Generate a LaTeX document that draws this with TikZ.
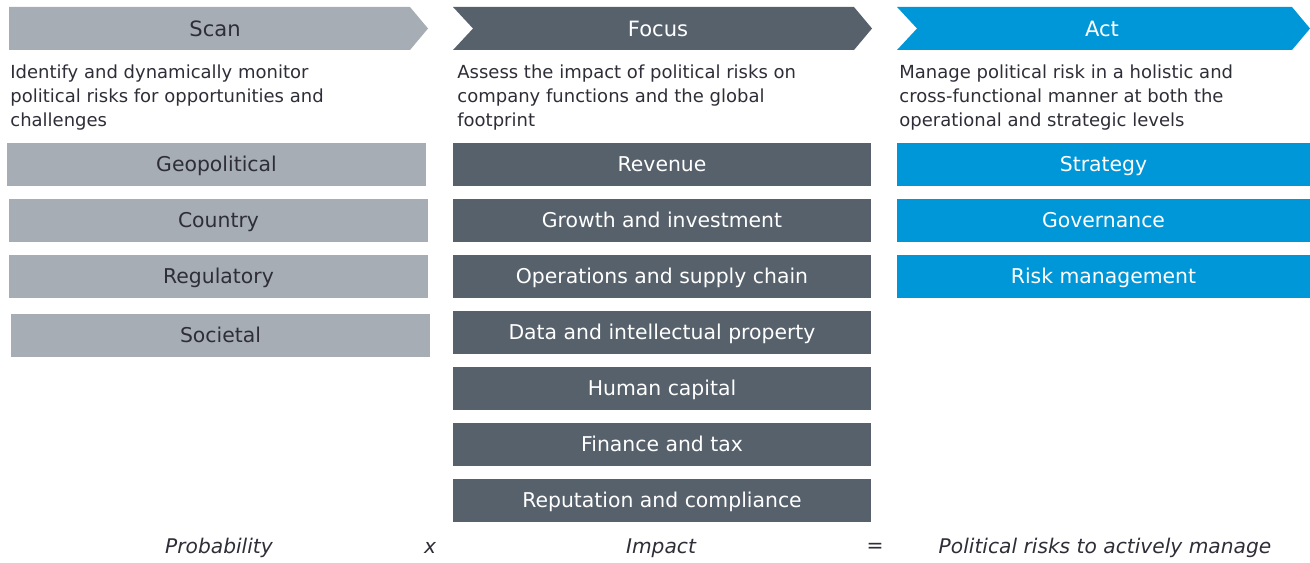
\documentclass[tikz,border=0pt]{standalone}
\usepackage{fontspec}
\setmainfont{DejaVu Sans}
\usepackage{tikz}
\usetikzlibrary{positioning}

\definecolor{scangray}{HTML}{A7ADB4}
\definecolor{focusgray}{HTML}{56616C}
\definecolor{actblue}{HTML}{0097D8}
\definecolor{eydark}{HTML}{2E2E38}

\tikzset{
    headtext/.style={font=\fontsize{12}{14}\selectfont, inner sep=0pt},
    desc/.style={anchor=north west, align=left, inner sep=0pt, text=eydark,
                 font=\fontsize{10.25}{13.66}\selectfont},
    box/.style={minimum width=8.38cm, minimum height=0.86cm, inner sep=0pt,
                text height=8.5pt, text depth=0pt,
                font=\fontsize{11.6}{14}\selectfont},
    scanbox/.style={box, fill=scangray, text=eydark},
    focusbox/.style={box, fill=focusgray, text=white},
    actbox/.style={box, fill=actblue, text=white, minimum width=8.26cm},
    formula/.style={font=\fontsize{11.5}{14}\selectfont\itshape, text=eydark, inner sep=0pt}
}

\begin{document}
\begin{tikzpicture}[x=0.02cm, y=-0.02cm]
            \useasboundingbox (0,0) rectangle (1310,563);

            % chevrons
            \fill[scangray]  (9,7) -- (410,7) -- (428,28.5) -- (410,50) -- (9,50) -- cycle;
            \fill[focusgray] (453,7) -- (854,7) -- (872,28.5) -- (854,50) -- (453,50) -- (473,28.5) -- cycle;
            \fill[actblue]   (897,7) -- (1292,7) -- (1310,28.5) -- (1292,50) -- (897,50) -- (917,28.5) -- cycle;
            \node[headtext, text=eydark] at (215,28.5) (scan) {Scan};
            \node[headtext, text=white] at (658,28.5) (focus) {Focus};
            \node[headtext, text=white] at (1102,28.5) (act) {Act};

            % descriptions
            \node[desc] at (10,64) (scandesc) {Identify and dynamically monitor\\political risks for opportunities and\\challenges};
            \node[desc] at (457,64) (focusdesc) {Assess the impact of political risks on\\company functions and the global\\footprint};
            \node[desc] at (899,64) (actdesc) {Manage political risk in a holistic and\\cross-functional manner at both the\\operational and strategic levels};

            % scan
            \node[scanbox] at (216.5,164.5) (geo) {Geopolitical};
            \node[scanbox] at (218.5,220.5) (country) {Country};
            \node[scanbox] at (218.5,276.5) (reg) {Regulatory};
            \node[scanbox] at (220.5,335.5) (soc) {Societal};

            % focus
            \node[focusbox] at (662,164.5) (rev) {Revenue};
            \node[focusbox] at (662,220.5) (growth) {Growth and investment};
            \node[focusbox] at (662,276.5) (ops) {Operations and supply chain};
            \node[focusbox] at (662,332.5) (data) {Data and intellectual property};
            \node[focusbox] at (662,388.5) (human) {Human capital};
            \node[focusbox] at (662,444.5) (fin) {Finance and tax};
            \node[focusbox] at (662,500.5) (rep) {Reputation and compliance};

            % act
            \node[actbox] at (1103.5,164.5) (strat) {Strategy};
            \node[actbox] at (1103.5,220.5) (gov) {Governance};
            \node[actbox] at (1103.5,276.5) (risk) {Risk management};

            % formula
            \node[formula] at (219,548) (prob) {Probability};
            \node[formula] at (430,548) (times) {x};
            \node[formula] at (661,548) (impact) {Impact};
            \node[formula] at (875,548) (equals) {=};
            \node[formula] at (1105,548) (manage) {Political risks to actively manage};
        \end{tikzpicture}
\end{document}
